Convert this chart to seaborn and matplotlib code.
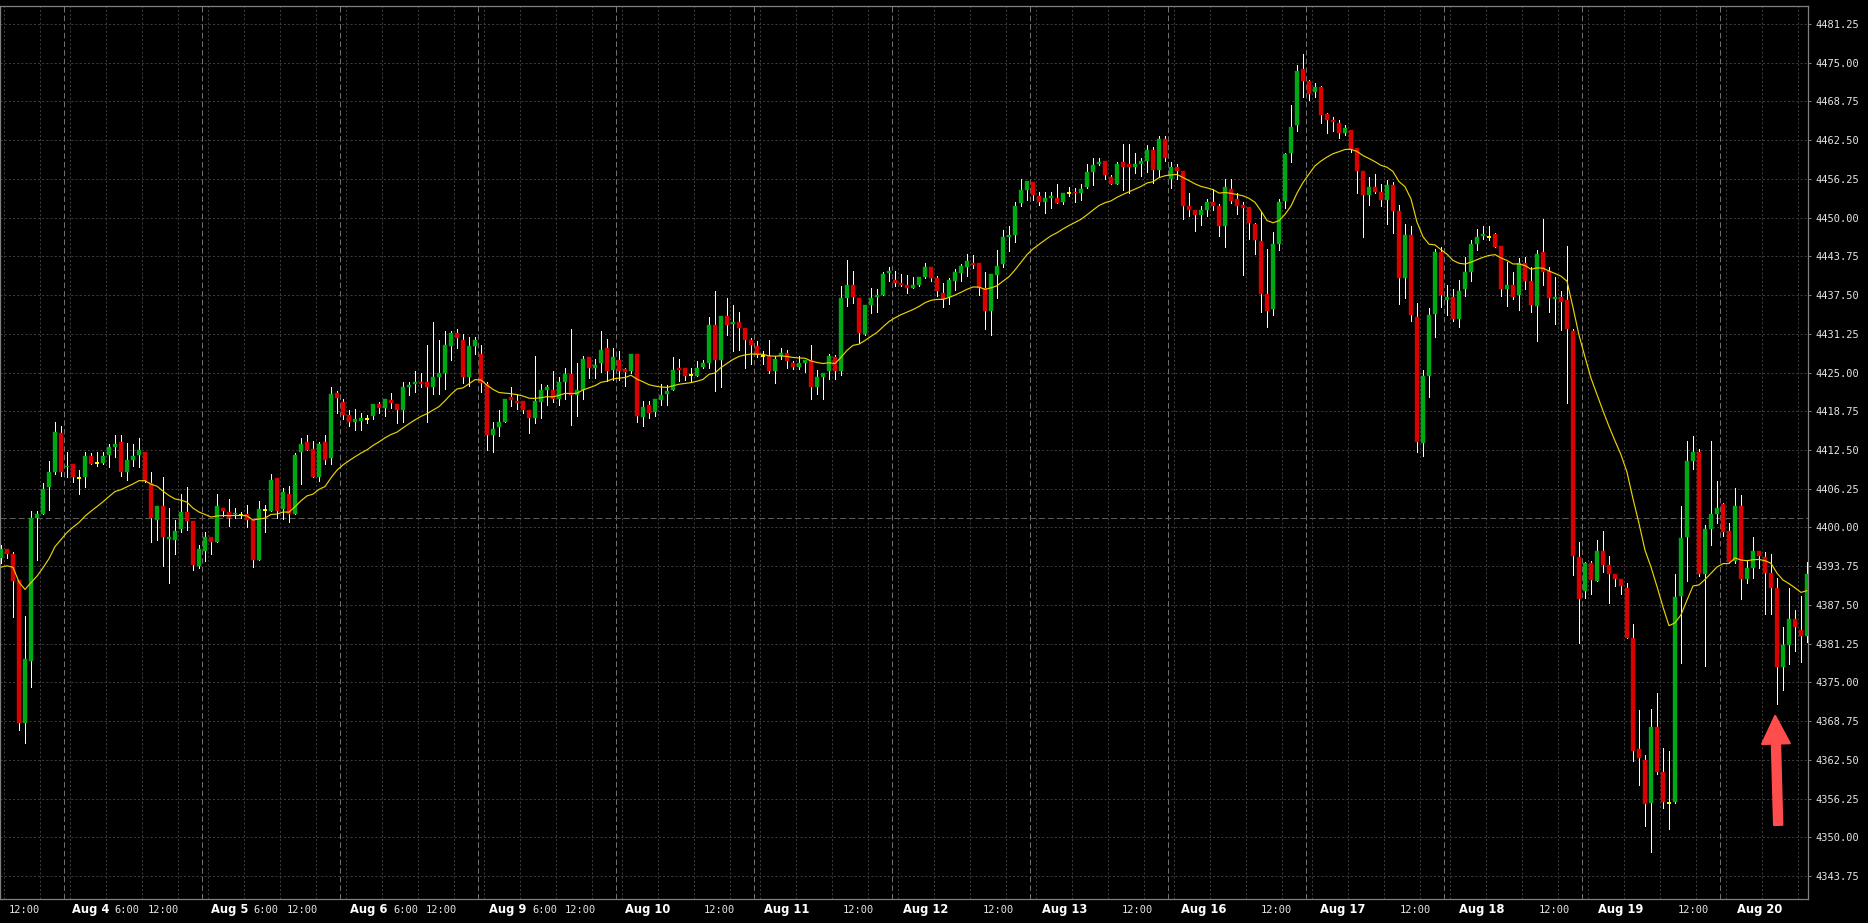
import numpy as np
import pandas as pd
import matplotlib
matplotlib.use("Agg")
import matplotlib.pyplot as plt
import matplotlib.transforms as mtransforms
import seaborn as sns

# hourly bars; bar 0 is the 11:00 bar of the Aug 3 session
opens = [
    4395.0, 4396.5, 4395.7, 4391.5, 4368.4, 4378.5, 4401.6, 4402.2, 4406.6, 4409.0,
    4415.3, 4409.7, 4410.3, 4408.0, 4408.2, 4411.5, 4410.4, 4410.4, 4411.7, 4413.0,
    4413.8, 4408.9, 4410.9, 4411.7, 4412.2, 4407.1, 4401.2, 4403.5, 4398.1, 4398.0,
    4399.8, 4402.5, 4401.0, 4393.8, 4396.2, 4398.4, 4397.6, 4403.2, 4402.5, 4402.1,
    4402.0, 4402.1, 4401.2, 4394.8, 4402.9, 4402.7, 4408.0, 4403.0, 4405.4, 4402.2,
    4412.1, 4413.8, 4412.7, 4408.1, 4413.8, 4411.2, 4421.7, 4420.2, 4418.1, 4417.1,
    4417.2, 4417.5, 4418.0, 4419.9, 4419.3, 4420.5, 4419.9, 4419.0, 4422.7, 4423.1,
    4423.4, 4423.4, 4422.7, 4424.3, 4425.0, 4429.3, 4431.4, 4430.3, 4424.3, 4429.3,
    4428.0, 4423.2, 4414.9, 4416.2, 4417.1, 4421.0, 4420.4, 4420.4, 4419.0, 4417.6,
    4420.3, 4422.2, 4422.2, 4420.8, 4423.5, 4424.8, 4421.3, 4422.2, 4427.5, 4425.8,
    4426.6, 4429.0, 4425.4, 4427.1, 4425.5, 4425.3, 4428.0, 4417.8, 4419.7, 4418.7,
    4420.5, 4421.6, 4422.2, 4425.7, 4425.7, 4424.6, 4424.4, 4425.9, 4426.6, 4432.6,
    4427.0, 4434.2, 4432.8, 4433.2, 4432.2, 4430.2, 4429.3, 4427.6, 4427.7, 4425.3,
    4427.7, 4428.1, 4426.5, 4425.9, 4426.6, 4427.1, 4422.6, 4424.3, 4425.3, 4427.5,
    4425.3, 4437.0, 4439.1, 4437.0, 4431.3, 4435.9, 4437.2, 4437.5, 4441.0, 4439.9,
    4439.5, 4439.1, 4438.7, 4439.1, 4440.5, 4442.0, 4440.3, 4437.9, 4437.2, 4439.8,
    4441.0, 4442.1, 4442.7, 4442.7, 4438.6, 4435.0, 4440.7, 4442.5, 4446.9, 4447.2,
    4452.3, 4454.5, 4455.8, 4453.5, 4452.6, 4453.2, 4453.2, 4452.6, 4453.9, 4454.2,
    4454.0, 4455.0, 4457.3, 4458.7, 4459.1, 4456.5, 4455.5, 4459.0, 4458.7, 4458.2,
    4458.7, 4459.1, 4460.9, 4457.7, 4462.7, 4456.2, 4458.2, 4457.5, 4451.9, 4451.2,
    4450.4, 4451.2, 4452.5, 4451.9, 4448.6, 4454.6, 4453.0, 4452.0, 4451.7, 4449.0,
    4446.2, 4437.7, 4435.2, 4445.7, 4452.7, 4460.4, 4465.0, 4474.0, 4472.0, 4470.2,
    4471.0, 4466.7, 4465.8, 4465.2, 4463.7, 4464.1, 4461.3, 4457.5, 4453.6, 4455.0,
    4454.2, 4452.8, 4455.2, 4451.0, 4440.3, 4447.2, 4434.0, 4413.6, 4424.4, 4434.5,
    4444.5, 4436.7, 4437.2, 4433.6, 4438.5, 4441.3, 4445.8, 4447.0, 4446.8, 4447.3,
    4445.4, 4438.5, 4439.1, 4437.5, 4442.6, 4439.8, 4435.7, 4444.5, 4441.4, 4436.9,
    4437.2, 4436.7, 4431.7, 4395.3, 4389.8, 4394.3, 4391.3, 4396.2, 4394.0, 4392.5,
    4391.7, 4390.3, 4382.1, 4364.2, 4362.5, 4355.6, 4367.8, 4360.6, 4355.6, 4355.7,
    4388.9, 4398.5, 4410.8, 4412.2, 4392.5, 4399.8, 4402.2, 4403.8, 4399.4, 4394.6,
    4403.5, 4391.7, 4393.5, 4396.2, 4395.3, 4392.7, 4390.3, 4377.5, 4381.0, 4385.3,
    4383.5, 4382.5,
]
highs = [
    4397.2, 4396.5, 4396.0, 4391.5, 4385.7, 4402.7, 4402.7, 4407.1, 4410.7, 4417.0,
    4416.3, 4412.1, 4410.3, 4409.3, 4412.1, 4412.0, 4412.2, 4412.1, 4413.4, 4415.0,
    4414.9, 4413.6, 4413.5, 4414.5, 4412.2, 4409.0, 4403.5, 4408.1, 4403.2, 4401.2,
    4405.4, 4406.6, 4401.0, 4397.1, 4399.3, 4398.4, 4405.4, 4403.2, 4404.6, 4403.1,
    4402.5, 4403.7, 4401.2, 4404.3, 4403.6, 4408.7, 4408.0, 4406.3, 4406.7, 4412.0,
    4414.4, 4414.9, 4414.0, 4413.8, 4414.9, 4422.6, 4422.0, 4420.8, 4418.9, 4419.2,
    4418.4, 4418.1, 4419.9, 4420.2, 4420.7, 4421.7, 4419.9, 4423.5, 4423.5, 4425.2,
    4424.9, 4429.4, 4433.1, 4430.3, 4431.7, 4431.7, 4432.1, 4431.2, 4430.7, 4430.7,
    4429.4, 4423.4, 4417.0, 4419.0, 4420.8, 4422.7, 4421.6, 4420.4, 4419.0, 4427.7,
    4423.2, 4423.0, 4425.3, 4424.3, 4425.7, 4432.0, 4426.6, 4427.7, 4427.5, 4427.2,
    4431.7, 4430.4, 4429.0, 4428.5, 4425.8, 4428.0, 4428.0, 4420.4, 4420.4, 4420.7,
    4423.2, 4423.0, 4427.5, 4427.2, 4425.7, 4425.7, 4426.8, 4427.1, 4433.9, 4438.2,
    4434.2, 4437.0, 4435.9, 4434.8, 4432.2, 4430.5, 4430.1, 4428.5, 4430.2, 4427.6,
    4428.9, 4428.6, 4426.8, 4427.7, 4427.0, 4429.4, 4425.4, 4424.9, 4428.0, 4427.9,
    4439.0, 4443.2, 4441.4, 4437.0, 4435.9, 4438.6, 4438.5, 4441.3, 4442.1, 4441.4,
    4440.9, 4440.7, 4440.4, 4440.4, 4442.6, 4442.0, 4440.6, 4439.5, 4440.2, 4441.7,
    4442.5, 4444.1, 4444.0, 4442.7, 4441.3, 4440.9, 4444.8, 4448.0, 4448.6, 4452.6,
    4456.2, 4455.9, 4455.8, 4454.2, 4454.2, 4454.2, 4455.4, 4454.0, 4455.0, 4454.8,
    4455.4, 4458.6, 4459.7, 4459.7, 4459.1, 4456.9, 4459.0, 4461.9, 4461.9, 4460.5,
    4459.6, 4461.7, 4461.4, 4463.2, 4463.2, 4459.0, 4458.7, 4457.5, 4453.9, 4451.2,
    4451.9, 4453.0, 4454.6, 4452.2, 4456.3, 4456.3, 4454.0, 4452.6, 4451.7, 4449.2,
    4451.1, 4444.9, 4447.7, 4453.0, 4460.5, 4468.1, 4474.6, 4476.4, 4472.2, 4471.8,
    4471.2, 4466.9, 4466.2, 4465.8, 4464.9, 4464.1, 4461.3, 4457.6, 4456.5, 4457.0,
    4455.5, 4456.0, 4455.8, 4452.0, 4449.0, 4448.7, 4436.3, 4425.4, 4435.4, 4444.9,
    4445.3, 4439.1, 4438.5, 4440.0, 4443.6, 4446.4, 4448.2, 4448.7, 4448.7, 4447.6,
    4445.4, 4442.9, 4441.3, 4443.5, 4443.7, 4442.1, 4444.8, 4449.8, 4442.1, 4440.5,
    4438.1, 4445.5, 4432.0, 4397.7, 4394.5, 4394.6, 4397.9, 4399.4, 4395.4, 4392.5,
    4391.7, 4391.0, 4384.4, 4370.6, 4363.3, 4370.7, 4373.3, 4364.4, 4364.0, 4392.5,
    4403.5, 4414.0, 4414.7, 4412.6, 4400.4, 4414.0, 4407.5, 4404.0, 4400.7, 4406.3,
    4405.3, 4394.6, 4398.5, 4396.2, 4396.0, 4395.7, 4391.8, 4384.0, 4390.3, 4386.7,
    4388.9, 4394.4,
]
lows = [
    4394.2, 4395.0, 4385.6, 4367.3, 4365.2, 4374.3, 4394.8, 4402.2, 4402.8, 4408.7,
    4408.3, 4408.2, 4407.4, 4405.4, 4406.6, 4410.3, 4409.9, 4410.3, 4409.8, 4411.4,
    4408.3, 4407.6, 4409.9, 4409.8, 4407.4, 4397.6, 4397.9, 4393.8, 4391.1, 4395.7,
    4399.3, 4399.6, 4393.1, 4393.4, 4394.6, 4395.8, 4397.6, 4401.8, 4400.3, 4401.5,
    4401.5, 4400.1, 4393.7, 4394.8, 4399.2, 4402.7, 4401.5, 4401.4, 4400.9, 4402.2,
    4407.0, 4412.5, 4408.1, 4407.5, 4410.3, 4410.2, 4418.5, 4417.5, 4416.4, 4415.8,
    4415.8, 4416.8, 4417.5, 4418.4, 4418.0, 4419.3, 4416.9, 4417.0, 4421.4, 4421.9,
    4422.7, 4417.1, 4421.6, 4421.6, 4422.3, 4427.0, 4428.9, 4423.3, 4422.8, 4428.0,
    4421.9, 4412.5, 4412.1, 4414.7, 4417.1, 4419.6, 4419.2, 4418.5, 4415.3, 4416.9,
    4417.6, 4419.8, 4420.2, 4419.8, 4420.8, 4416.6, 4418.0, 4420.8, 4424.2, 4424.2,
    4425.1, 4423.7, 4423.8, 4423.8, 4422.8, 4424.9, 4417.1, 4416.4, 4417.6, 4418.0,
    4419.8, 4419.8, 4422.2, 4423.7, 4423.8, 4423.4, 4424.4, 4425.7, 4425.7, 4422.1,
    4422.6, 4431.1, 4428.5, 4428.7, 4425.8, 4426.4, 4427.5, 4426.4, 4425.0, 4423.3,
    4427.2, 4425.8, 4425.6, 4425.6, 4425.1, 4420.7, 4421.5, 4420.7, 4423.9, 4423.9,
    4424.6, 4435.8, 4436.2, 4429.7, 4431.1, 4434.6, 4434.7, 4437.5, 4439.8, 4438.9,
    4438.9, 4437.9, 4438.6, 4438.9, 4440.2, 4439.7, 4437.4, 4435.6, 4436.1, 4438.3,
    4439.7, 4440.6, 4441.8, 4437.5, 4432.0, 4431.1, 4437.1, 4442.1, 4444.6, 4446.1,
    4451.8, 4452.9, 4452.9, 4452.1, 4450.8, 4451.6, 4452.3, 4452.2, 4453.5, 4452.6,
    4452.9, 4454.8, 4455.3, 4458.5, 4456.3, 4455.5, 4455.4, 4454.5, 4454.0, 4457.2,
    4456.7, 4457.4, 4455.6, 4456.7, 4459.2, 4454.8, 4456.2, 4449.8, 4450.3, 4447.9,
    4448.8, 4450.3, 4451.2, 4447.0, 4445.3, 4452.3, 4450.6, 4440.7, 4446.6, 4444.2,
    4434.7, 4432.4, 4434.3, 4444.8, 4451.6, 4458.9, 4463.9, 4469.5, 4469.0, 4469.5,
    4465.2, 4463.6, 4463.9, 4462.9, 4463.3, 4460.6, 4454.0, 4446.8, 4452.0, 4454.0,
    4451.8, 4449.0, 4447.5, 4436.1, 4437.1, 4433.4, 4412.1, 4411.5, 4421.1, 4430.8,
    4435.6, 4434.3, 4433.4, 4432.4, 4437.4, 4439.8, 4444.8, 4446.6, 4446.4, 4445.3,
    4437.4, 4435.7, 4436.9, 4435.1, 4438.5, 4434.7, 4430.1, 4439.1, 4434.7, 4432.8,
    4431.9, 4420.1, 4392.3, 4381.4, 4388.6, 4389.2, 4391.3, 4392.8, 4387.8, 4390.5,
    4389.2, 4382.1, 4362.3, 4358.4, 4351.8, 4347.7, 4360.2, 4354.7, 4351.4, 4355.6,
    4378.2, 4391.4, 4409.5, 4392.1, 4377.7, 4397.1, 4400.7, 4398.6, 4394.5, 4394.3,
    4388.4, 4391.0, 4391.8, 4393.5, 4386.1, 4386.1, 4371.5, 4373.7, 4377.9, 4380.1,
    4378.3, 4381.5,
]
closes = [
    4396.5, 4395.8, 4391.3, 4368.4, 4378.8, 4401.6, 4402.2, 4406.2, 4409.0, 4415.4,
    4408.9, 4410.0, 4408.2, 4408.0, 4411.5, 4410.3, 4410.4, 4411.5, 4413.0, 4413.5,
    4409.0, 4410.9, 4411.5, 4412.5, 4407.5, 4401.6, 4403.5, 4398.4, 4398.4, 4399.4,
    4402.5, 4401.0, 4394.0, 4396.5, 4398.5, 4397.6, 4403.5, 4402.7, 4401.6, 4402.3,
    4402.0, 4401.2, 4394.8, 4403.0, 4402.9, 4407.7, 4402.7, 4405.7, 4402.2, 4411.7,
    4413.5, 4412.5, 4408.1, 4413.5, 4410.9, 4421.5, 4420.9, 4418.2, 4417.1, 4417.5,
    4417.7, 4417.5, 4419.9, 4419.3, 4420.7, 4420.1, 4419.0, 4422.7, 4423.0, 4423.4,
    4423.2, 4422.6, 4424.3, 4424.9, 4429.4, 4431.4, 4430.5, 4424.3, 4429.3, 4430.3,
    4423.3, 4414.9, 4415.9, 4417.0, 4420.8, 4420.6, 4420.1, 4419.0, 4417.6, 4420.4,
    4422.2, 4422.6, 4420.8, 4423.5, 4424.8, 4421.3, 4422.2, 4427.2, 4425.8, 4426.2,
    4428.6, 4425.3, 4427.5, 4425.3, 4425.1, 4428.0, 4418.0, 4419.5, 4418.5, 4420.7,
    4421.3, 4422.0, 4425.4, 4425.4, 4424.5, 4424.6, 4425.8, 4426.6, 4432.6, 4427.0,
    4434.2, 4432.7, 4433.2, 4432.2, 4430.2, 4429.4, 4427.8, 4427.6, 4425.3, 4427.2,
    4428.1, 4426.8, 4425.9, 4426.5, 4427.0, 4422.6, 4424.3, 4424.9, 4427.7, 4425.3,
    4437.0, 4439.1, 4437.2, 4431.4, 4435.9, 4437.1, 4437.5, 4440.9, 4441.4, 4439.5,
    4439.2, 4438.7, 4439.1, 4440.4, 4442.0, 4440.3, 4438.2, 4436.9, 4440.0, 4441.2,
    4442.2, 4443.0, 4442.4, 4438.6, 4435.0, 4440.9, 4442.2, 4446.9, 4447.2, 4451.9,
    4454.5, 4455.9, 4453.7, 4452.6, 4453.1, 4453.5, 4452.3, 4454.0, 4453.9, 4453.9,
    4454.6, 4457.3, 4458.5, 4458.9, 4456.8, 4455.5, 4458.7, 4458.2, 4458.2, 4458.7,
    4459.1, 4460.9, 4457.7, 4462.7, 4459.7, 4458.2, 4457.6, 4451.9, 4451.2, 4450.4,
    4451.2, 4452.5, 4451.9, 4448.6, 4454.9, 4452.7, 4451.9, 4451.6, 4449.2, 4446.4,
    4437.7, 4435.0, 4445.7, 4452.6, 4460.3, 4464.6, 4473.7, 4472.0, 4470.0, 4471.0,
    4466.5, 4465.8, 4465.5, 4463.7, 4464.5, 4461.1, 4457.6, 4453.6, 4455.0, 4454.2,
    4452.8, 4455.2, 4451.0, 4440.3, 4447.2, 4434.3, 4413.8, 4424.4, 4434.3, 4444.5,
    4437.5, 4437.2, 4433.6, 4438.2, 4441.3, 4445.8, 4446.8, 4447.3, 4446.8, 4445.3,
    4438.5, 4439.1, 4437.2, 4442.6, 4439.8, 4435.9, 4444.1, 4441.3, 4437.1, 4437.2,
    4436.4, 4432.0, 4395.4, 4388.5, 4394.2, 4391.5, 4396.2, 4394.0, 4392.5, 4391.7,
    4390.6, 4382.1, 4364.0, 4362.8, 4355.3, 4367.8, 4360.6, 4355.7, 4355.6, 4388.8,
    4398.3, 4410.8, 4412.2, 4392.5, 4399.8, 4402.2, 4403.2, 4399.3, 4394.5, 4403.5,
    4391.7, 4393.5, 4396.2, 4395.4, 4392.7, 4390.3, 4377.5, 4381.0, 4385.3, 4383.9,
    4382.5, 4392.5,
]

session_days = ["Aug 4", "Aug 5", "Aug 6", "Aug 9", "Aug 10", "Aug 11", "Aug 12",
                "Aug 13", "Aug 16", "Aug 17", "Aug 18", "Aug 19", "Aug 20"]
first_session_bar = 11      # first bar of the Aug 4 session
bars_per_session = 23
ema_span = 20
ema_start = 4393.3          # average value just before the first visible bar
ref_level = 4401.5
y_ticks = np.arange(4343.75, 4481.3, 6.25)
arrow_tail = (296.2, 4352.0)
arrow_tip = (295.7, 4369.6)

sns.set_style("dark", {"axes.facecolor": "black", "figure.facecolor": "black",
                       "axes.edgecolor": "#808080"})
plt.rcParams["font.family"] = ["DejaVu Sans"]
plt.rcParams["lines.scale_dashes"] = False

df = pd.DataFrame({"open": opens, "high": highs, "low": lows, "close": closes})
df["bar"] = np.arange(len(df))
seeded = pd.concat([pd.Series([ema_start]), df["close"]], ignore_index=True)
df["ema"] = seeded.ewm(span=ema_span, adjust=False).mean().iloc[1:].values

n_bars = len(df)
x_left, x_right = -0.17, n_bars - 0.83

fig = plt.figure(figsize=(18.68, 9.23), dpi=100)
ax = fig.add_axes([0, 24 / 923, 1808 / 1868, 893 / 923])
ax.set_facecolor("black")

# session boundaries and grid
sess_starts = [first_session_bar + bars_per_session * k for k in range(-1, len(session_days))]
grid_x = [s + off - 0.5 for s in sess_starts for off in (1, 7, 13, 19)
          if x_left < s + off - 0.5 < x_right]
ax.set_xticks(grid_x)
ax.set_xticklabels([])
ax.tick_params(axis="x", length=0)
ax.set_yticks(y_ticks)
ax.set_yticklabels([f"{v:.2f}" for v in y_ticks])
ax.yaxis.tick_right()
ax.tick_params(axis="y", colors="#808080", labelcolor="#e6e6e6", length=2.2, width=0.72,
               pad=3, labelsize=7.5, labelfontfamily="DejaVu Sans Mono")
ax.grid(True, color="#3a3a3a", lw=0.72, linestyle=(0, (1.5, 1.5)))
ax.set_axisbelow(True)

for s in sess_starts[1:]:
    ax.axvline(s - 0.5, color="#707070", lw=0.72, linestyle=(0, (4, 2.2)), zorder=1)
ax.axhline(ref_level, color="#5a5a5a", lw=0.72, linestyle=(0, (4.5, 2)), zorder=1)

# candles
ax.vlines(df["bar"], df["low"], df["high"], colors="white", lw=0.5, zorder=3,
          antialiased=False)
body_lo = np.minimum(df["open"], df["close"])
body_h = (df["close"] - df["open"]).abs()
up = df["close"] > df["open"]
down = df["close"] < df["open"]
flat = df["close"] == df["open"]
ax.bar(df["bar"][up], body_h[up], bottom=body_lo[up], width=0.8, color="#00a814",
       edgecolor="#00a814", linewidth=0.3, zorder=4)
ax.bar(df["bar"][down], body_h[down], bottom=body_lo[down], width=0.8, color="#d90000",
       edgecolor="#d90000", linewidth=0.3, zorder=4)
ax.hlines(df["close"][flat], df["bar"][flat] - 0.4, df["bar"][flat] + 0.4,
          colors="#ffff00", lw=1.4, zorder=4)

sns.lineplot(x=df["bar"], y=df["ema"], color="#e8d200", lw=0.85, ax=ax, zorder=5)
ax.set_xlabel("")
ax.set_ylabel("")

ax.set_xlim(x_left, x_right)
ax.set_ylim(4340.05, 4484.15)
for sp in ax.spines.values():
    sp.set_visible(True)
    sp.set_color("#808080")
    sp.set_linewidth(0.9)

# time axis labels
labels = [(sess_starts[0] + 18.5, "12:00", False)]
for k, day in enumerate(session_days):
    s = sess_starts[k + 1]
    labels.append((s + 6.5, day, True))
    if k < 4:
        labels.append((s + 12.5, "6:00", False))
    if s + 18.5 < x_right:
        labels.append((s + 18.5, "12:00", False))

lab_tf = mtransforms.blended_transform_factory(ax.transData, ax.transAxes)
for g, text, bold in labels:
    x = g - 2.58 + 0.0076 * (g - 6.5)
    if bold:
        ax.text(x, -11 / 893, text, transform=lab_tf, ha="center", va="center",
                color="white", fontsize=8.3, fontweight="bold", family="DejaVu Sans")
    else:
        ax.text(x, -11 / 893, text, transform=lab_tf, ha="center", va="center",
                color="#e6e6e6", fontsize=7.5, family="DejaVu Sans Mono")

ax.annotate("", xy=arrow_tip, xytext=arrow_tail,
            arrowprops=dict(arrowstyle="simple,head_length=2.0,head_width=2.0,tail_width=0.6",
                            mutation_scale=10, color="#ff4d4d", shrinkA=0, shrinkB=0,
                            lw=1.5, joinstyle="round", capstyle="round"),
            zorder=6)

fig.savefig("out.png", dpi=100, facecolor="black")
